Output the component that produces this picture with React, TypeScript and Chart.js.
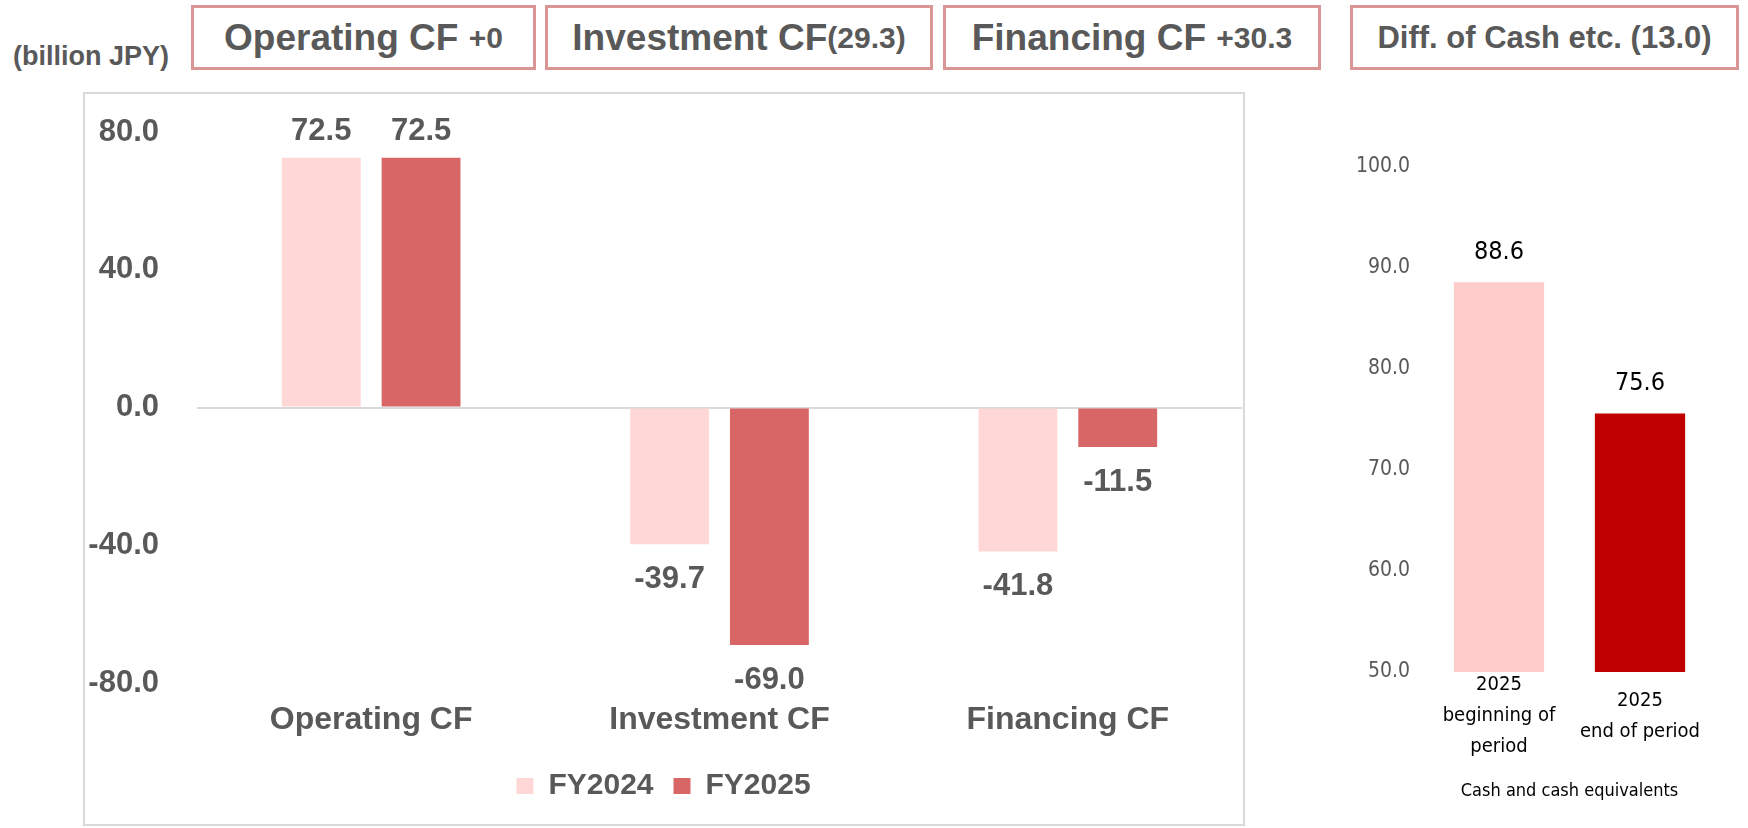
import React, { useEffect, useRef } from 'react';
import { Chart, registerables } from 'chart.js';

Chart.register(...registerables);

// ---------- data ----------
const cfCategories = ['Operating CF', 'Investment CF', 'Financing CF'];
const seriesNames = ['FY2024', 'FY2025'];
const fy2024Values = [72.5, -39.7, -41.8];
const fy2025Values = [72.5, -69.0, -11.5];
const cfTicks = [-80, -40, 0, 40, 80];

const cashCategories = [
  ['2025', 'beginning of', 'period'],
  ['2025', 'end of period'],
];
const cashValues = [88.6, 75.6];
const cashTicks = [50, 60, 70, 80, 90, 100];
const cashAxisTitle = 'Cash and cash equivalents';

const unitLabel = '(billion JPY)';
const headerMain = ['Operating CF ', 'Investment CF', 'Financing CF ', 'Diff. of Cash etc. (13.0)'];
const headerSub = ['+0', '(29.3)', '+30.3', ''];

// ---------- layout / style ----------
const SANS = "'Liberation Sans', Arial, Helvetica, sans-serif";
const NARROW = "'Liberation Sans Narrow', 'Arial Narrow', 'DejaVu Sans Condensed', sans-serif";
const GRAY = '#595959';
const headerBoxes = [
  { left: 191, width: 345, mainSize: 37, subSize: 30 },
  { left: 545, width: 388, mainSize: 37, subSize: 30 },
  { left: 943, width: 378, mainSize: 37, subSize: 30 },
  { left: 1350, width: 389, mainSize: 31, subSize: 30 },
];

const valueLabelPlugin = {
  id: 'valueLabels',
  afterDatasetsDraw(chart: any, _args: any, opts: any) {
    const { ctx } = chart;
    ctx.save();
    ctx.font = opts.font;
    ctx.fillStyle = opts.color;
    ctx.textAlign = 'center';
    ctx.textBaseline = 'middle';
    chart.data.datasets.forEach((ds: any, di: number) => {
      const meta = chart.getDatasetMeta(di);
      meta.data.forEach((el: any, i: number) => {
        const v = Number(ds.data[i]);
        const { x, y } = el.getProps(['x', 'y'], true);
        const ty = v >= 0 ? y - opts.offsetPos : y + opts.offsetNeg;
        ctx.fillText(v.toFixed(1), x, ty);
      });
    });
    ctx.restore();
  },
};

function CashFlowChart() {
  const ref = useRef<HTMLCanvasElement | null>(null);
  useEffect(() => {
    if (!ref.current) return;
    const chart = new Chart(ref.current, {
      type: 'bar',
      data: {
        labels: cfCategories,
        datasets: [
          {
            label: seriesNames[0],
            data: fy2024Values,
            backgroundColor: '#FFD7D7',
            borderWidth: 0,
            categoryPercentage: 0.573,
            barPercentage: 0.79,
          },
          {
            label: seriesNames[1],
            data: fy2025Values,
            backgroundColor: '#D96666',
            borderWidth: 0,
            categoryPercentage: 0.573,
            barPercentage: 0.79,
          },
        ],
      },
      plugins: [valueLabelPlugin],
      options: {
        animation: false,
        responsive: false,
        layout: { padding: { left: 0, right: 1, top: 38, bottom: 13 } },
        scales: {
          x: {
            grid: { display: false, drawTicks: false },
            border: { display: false },
            ticks: {
              padding: 18,
              color: GRAY,
              font: { family: SANS, size: 32, weight: 'bold' },
              maxRotation: 0,
            },
            afterFit: (s: any) => {
              s.height = 68;
            },
          },
          y: {
            min: cfTicks[0],
            max: cfTicks[cfTicks.length - 1],
            afterBuildTicks: (s: any) => {
              s.ticks = cfTicks.map((v) => ({ value: v }));
            },
            grid: {
              color: (c: any) => (c.tick && c.tick.value === 0 ? '#D9D9D9' : 'rgba(0,0,0,0)'),
              lineWidth: 2,
              drawTicks: false,
            },
            border: { display: false },
            ticks: {
              padding: 38,
              color: GRAY,
              font: { family: SANS, size: 31, weight: 'bold' },
              callback: (v: any) => Number(v).toFixed(1),
            },
            afterFit: (s: any) => {
              s.width = 112;
              s.paddingTop = 0;
              s.paddingBottom = 0;
            },
          },
        },
        plugins: {
          legend: {
            position: 'bottom',
            labels: {
              boxWidth: 17,
              boxHeight: 16,
              padding: 20,
              color: GRAY,
              font: { family: SANS, size: 30, weight: 'bold' },
            },
          },
          tooltip: { enabled: false },
          valueLabels: {
            font: `bold 31px ${SANS}`,
            color: GRAY,
            offsetPos: 26,
            offsetNeg: 35,
          },
        } as any,
      },
    });
    return () => chart.destroy();
  }, []);
  return <canvas ref={ref} width={1158} height={730} style={{ display: 'block' }} />;
}

function CashChart() {
  const ref = useRef<HTMLCanvasElement | null>(null);
  useEffect(() => {
    if (!ref.current) return;
    const chart = new Chart(ref.current, {
      type: 'bar',
      data: {
        labels: cashCategories as any,
        datasets: [
          {
            data: cashValues,
            backgroundColor: ['#FFCCCC', '#C00000'],
            borderWidth: 0,
            categoryPercentage: 0.64,
            barPercentage: 1,
          },
        ],
      },
      plugins: [valueLabelPlugin],
      options: {
        animation: false,
        responsive: false,
        layout: { padding: { left: 0, right: 37.5, top: 67, bottom: 25 } },
        scales: {
          x: {
            grid: { display: false, drawTicks: false },
            border: { display: false },
            ticks: {
              padding: 13,
              color: '#000',
              crossAlign: 'center',
              maxRotation: 0,
              autoSkip: false,
              font: { family: NARROW, size: 20, lineHeight: '31px' },
            },
            title: {
              display: true,
              text: cashAxisTitle,
              color: '#000',
              padding: 0,
              font: { family: NARROW, size: 18, lineHeight: 1.3 },
            },
            afterFit: (s: any) => {
              s.height = 131;
            },
          },
          y: {
            min: cashTicks[0],
            max: cashTicks[cashTicks.length - 1],
            afterBuildTicks: (s: any) => {
              s.ticks = cashTicks.map((v) => ({ value: v }));
            },
            grid: { display: false, drawTicks: false },
            border: { display: false },
            ticks: {
              padding: 18.5,
              color: GRAY,
              font: { family: NARROW, size: 21 },
              callback: (v: any) => Number(v).toFixed(1),
            },
            afterFit: (s: any) => {
              s.width = 98.5;
              s.paddingTop = 0;
              s.paddingBottom = 0;
            },
          },
        },
        plugins: {
          legend: { display: false },
          tooltip: { enabled: false },
          valueLabels: {
            font: `25px ${NARROW}`,
            color: '#000',
            offsetPos: 30,
            offsetNeg: 30,
          },
        } as any,
      },
    });
    return () => chart.destroy();
  }, []);
  return <canvas ref={ref} width={418} height={728} style={{ display: 'block' }} />;
}

export default function App() {
  return (
    <div
      style={{
        position: 'absolute',
        left: 0,
        top: 0,
        width: 1748,
        height: 828,
        background: '#fff',
        overflow: 'hidden',
        fontFamily: SANS,
      }}
    >
      <div
        style={{
          position: 'absolute',
          left: 13,
          top: 41,
          height: 30,
          lineHeight: '30px',
          fontSize: 27,
          fontWeight: 'bold',
          color: GRAY,
          whiteSpace: 'nowrap',
        }}
      >
        {unitLabel}
      </div>
      {headerBoxes.map((b, i) => (
        <div
          key={i}
          style={{
            position: 'absolute',
            left: b.left,
            top: 5,
            width: b.width,
            height: 65,
            boxSizing: 'border-box',
            border: '3px solid #DA9694',
            display: 'flex',
            alignItems: 'center',
            justifyContent: 'center',
            color: GRAY,
            fontWeight: 'bold',
            whiteSpace: 'pre',
            background: '#fff',
          }}
        >
          <span style={{ fontSize: b.mainSize }}>{headerMain[i]}</span>
          {headerSub[i] ? <span style={{ fontSize: b.subSize }}>{headerSub[i]}</span> : null}
        </div>
      ))}
      <div
        style={{
          position: 'absolute',
          left: 83,
          top: 92,
          width: 1162,
          height: 734,
          boxSizing: 'border-box',
          border: '2px solid #D9D9D9',
        }}
      >
        <CashFlowChart />
      </div>
      <div style={{ position: 'absolute', left: 1330, top: 100, width: 418, height: 728 }}>
        <CashChart />
      </div>
    </div>
  );
}
